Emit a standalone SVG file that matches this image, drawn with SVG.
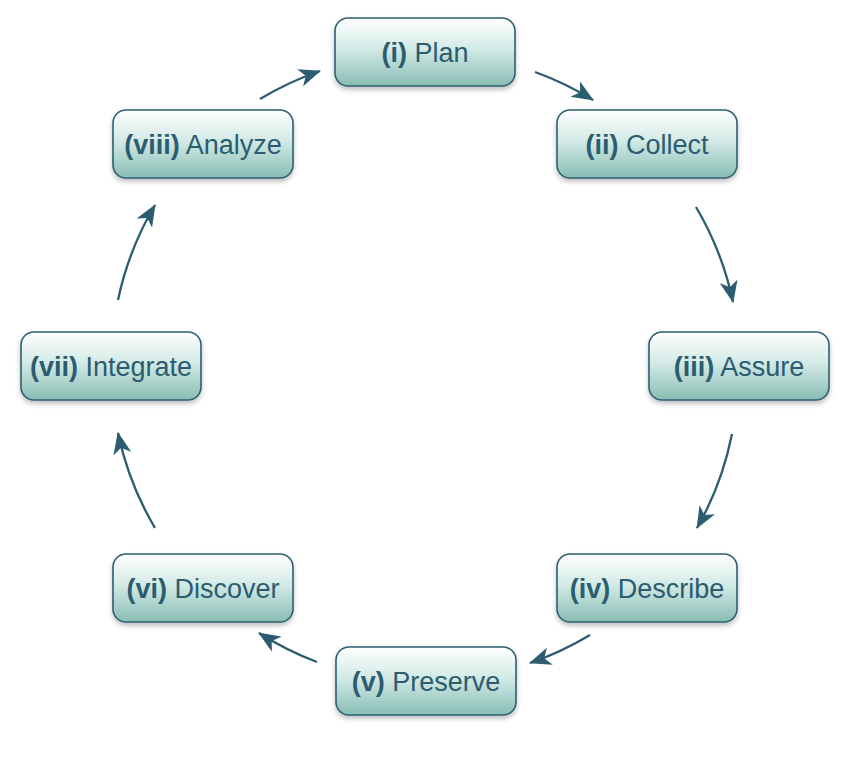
<svg xmlns="http://www.w3.org/2000/svg" width="849" height="776" viewBox="0 0 849 776">
<style>
.box{fill:url(#g);stroke:#2d6072;stroke-width:1.6;filter:url(#sh)}
.lbl{font-family:"Liberation Sans",Arial,sans-serif;font-size:27px;fill:#2b5c6f;text-anchor:middle}
.b{font-weight:bold}
.arc{fill:none;stroke:#2b5c6f;stroke-width:2.3;marker-end:url(#ah)}
</style>
<defs>
<linearGradient id="g" x1="0" y1="0" x2="0" y2="1">
<stop offset="0" stop-color="#ffffff"/>
<stop offset="0.45" stop-color="#d3eae6"/>
<stop offset="1" stop-color="#88bdb5"/>
</linearGradient>
<filter id="sh" x="-10%" y="-10%" width="120%" height="130%">
<feDropShadow dx="0" dy="3" stdDeviation="2.5" flood-color="#000" flood-opacity="0.25"/>
</filter>
<marker id="ah" viewBox="0 0 22 18" refX="21" refY="9" markerWidth="22" markerHeight="18" markerUnits="userSpaceOnUse" orient="auto">
<path d="M0,0 L22,9 L0,18 L6,9 z" fill="#2b5c6f"/>
</marker>
</defs>
<g id="connectors">
<path class="arc" d="M535,72 A314,314 0 0 1 593,100"/>
<path class="arc" d="M696,207 A314,314 0 0 1 733,302"/>
<path class="arc" d="M732,434 A314,314 0 0 1 697,528"/>
<path class="arc" d="M590,635 A314,314 0 0 1 530,663"/>
<path class="arc" d="M317,662 A314,314 0 0 1 259,633"/>
<path class="arc" d="M155,528 A314,314 0 0 1 118,433"/>
<path class="arc" d="M118,300 A314,314 0 0 1 155,205"/>
<path class="arc" d="M260,99 A314,314 0 0 1 320,71"/>
</g>
<g id="plan"><rect class="box" x="335" y="18" width="180" height="68" rx="13"/><text class="lbl" x="425" y="62"><tspan class="b">(i)</tspan> Plan</text></g>
<g id="collect"><rect class="box" x="557" y="110" width="180" height="68" rx="13"/><text class="lbl" x="647" y="154"><tspan class="b">(ii)</tspan> Collect</text></g>
<g id="assure"><rect class="box" x="649" y="332" width="180" height="68" rx="13"/><text class="lbl" x="739" y="376"><tspan class="b">(iii)</tspan> Assure</text></g>
<g id="describe"><rect class="box" x="557" y="554" width="180" height="68" rx="13"/><text class="lbl" x="647" y="598"><tspan class="b">(iv)</tspan> Describe</text></g>
<g id="preserve"><rect class="box" x="336" y="647" width="180" height="68" rx="13"/><text class="lbl" x="426" y="691"><tspan class="b">(v)</tspan> Preserve</text></g>
<g id="discover"><rect class="box" x="113" y="554" width="180" height="68" rx="13"/><text class="lbl" x="203" y="598"><tspan class="b">(vi)</tspan> Discover</text></g>
<g id="integrate"><rect class="box" x="21" y="332" width="180" height="68" rx="13"/><text class="lbl" x="111" y="376"><tspan class="b">(vii)</tspan> Integrate</text></g>
<g id="analyze"><rect class="box" x="113" y="110" width="180" height="68" rx="13"/><text class="lbl" x="203" y="154"><tspan class="b">(viii)</tspan> Analyze</text></g>
</svg>
